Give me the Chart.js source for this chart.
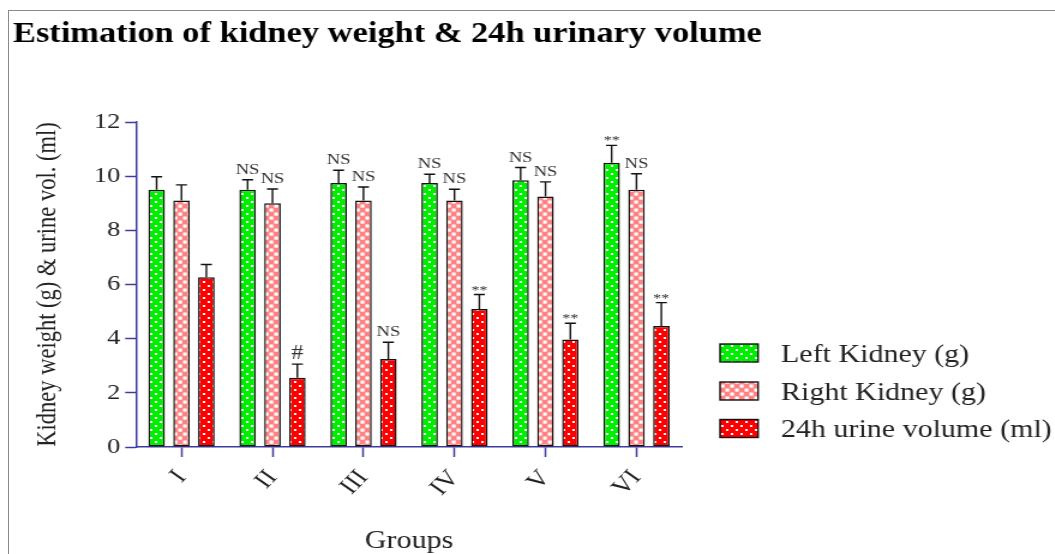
<!DOCTYPE html>
<html>
<head>
<meta charset="utf-8">
<script src="https://cdn.jsdelivr.net/npm/chart.js@4.4.1/dist/chart.umd.min.js"></script>
<style>
    html, body { margin: 0; padding: 0; background: #fff; overflow: hidden; }
    body { width: 1055px; height: 554px; position: relative; }
    .frame {
        position: absolute; left: 8px; top: 10px; width: 1200px; height: 700px;
        border-top: 1.5px solid #8a8a8a; border-left: 1.5px solid #8a8a8a;
    }
    #chart { position: absolute; left: 0; top: 0; }
</style>
</head>
<body>
<div class="frame"></div>
<!-- chart is drawn 880 wide and stretched to 1056 like the original figure -->
<canvas id="chart" width="880" height="570" style="width:1056px;height:570px"></canvas>
<script>
const groups = ['I', 'II', 'III', 'IV', 'V', 'VI'];

const leftKidney = [9.5, 9.5, 9.75, 9.75, 9.85, 10.5];
const leftKidneyErr = [0.48, 0.37, 0.47, 0.32, 0.47, 0.64];
const leftKidneySig = ['', 'NS', 'NS', 'NS', 'NS', '**'];

const rightKidney = [9.1, 9.0, 9.1, 9.1, 9.25, 9.5];
const rightKidneyErr = [0.58, 0.53, 0.5, 0.42, 0.54, 0.59];
const rightKidneySig = ['', 'NS', 'NS', 'NS', 'NS', 'NS'];

const urineVolume = [6.27, 2.56, 3.25, 5.1, 3.97, 4.47];
const urineVolumeErr = [0.47, 0.5, 0.62, 0.53, 0.6, 0.86];
const urineVolumeSig = ['', '#', 'NS', '**', '**', '**'];

const yTicks = [0, 2, 4, 6, 8, 10, 12];

const serif = '"Liberation Serif", "Times New Roman", serif';
const axisColor = '#3c3ca0';

function dotPattern(color) {
    const c = document.createElement('canvas');
    c.width = 8; c.height = 8;
    const g = c.getContext('2d');
    g.fillStyle = color;
    g.fillRect(0, 0, 8, 8);
    g.fillStyle = '#fff';
    g.fillRect(1, 1, 2, 2);
    g.fillRect(5, 5, 2, 2);
    return g.createPattern(c, 'repeat');
}

function squarePattern(color) {
    const c = document.createElement('canvas');
    c.width = 8; c.height = 8;
    const g = c.getContext('2d');
    g.fillStyle = color;
    g.fillRect(0, 0, 8, 8);
    g.fillStyle = '#fff';
    g.fillRect(0.5, 0.5, 3.2, 3.2);
    g.fillRect(4.5, 4.5, 3.2, 3.2);
    return g.createPattern(c, 'repeat');
}

const markFonts = {
    'NS': '15.5px ' + serif,
    '**': '13.5px ' + serif,
    '#': '20px ' + serif
};
const markGaps = { 'NS': 6, '**': 1, '#': 5 };

const errorBars = {
    id: 'errorBars',
    afterDatasetsDraw(chart) {
        const ctx = chart.ctx;
        const yScale = chart.scales.y;
        chart.data.datasets.forEach((ds, i) => {
            const meta = chart.getDatasetMeta(i);
            meta.data.forEach((bar, j) => {
                const top = yScale.getPixelForValue(ds.data[j] + ds.errors[j]);
                ctx.save();
                ctx.strokeStyle = '#111';
                ctx.lineWidth = 1.4;
                ctx.beginPath();
                ctx.moveTo(bar.x, bar.y);
                ctx.lineTo(bar.x, top);
                ctx.moveTo(bar.x - 4.6, top);
                ctx.lineTo(bar.x + 4.6, top);
                ctx.stroke();

                const mark = ds.marks[j];
                if (mark) {
                    ctx.font = markFonts[mark];
                    ctx.fillStyle = '#333';
                    ctx.textAlign = 'center';
                    ctx.textBaseline = 'alphabetic';
                    ctx.fillText(mark, bar.x, top - markGaps[mark]);
                }
                ctx.restore();
            });
        });
    }
};

const sideLegend = {
    id: 'sideLegend',
    afterDraw(chart) {
        const ctx = chart.ctx;
        const rows = [353, 391, 428.5];
        ctx.save();
        chart.data.datasets.forEach((ds, i) => {
            const cy = rows[i];
            ctx.fillStyle = ds.backgroundColor;
            ctx.fillRect(600, cy - 9, 31.7, 18);
            ctx.strokeStyle = '#111';
            ctx.lineWidth = 1.4;
            ctx.strokeRect(600, cy - 9, 31.7, 18);
            ctx.fillStyle = '#222';
            ctx.font = '25px ' + serif;
            ctx.textAlign = 'left';
            ctx.textBaseline = 'alphabetic';
            ctx.fillText(ds.label, 650.8, cy + 8.5);
        });
        ctx.restore();
    }
};

const barStyle = {
    borderColor: '#111',
    borderWidth: 1.5,
    borderSkipped: false,
    categoryPercentage: 0.82,
    barPercentage: 0.665
};

const chart = new Chart(document.getElementById('chart').getContext('2d'), {
    type: 'bar',
    data: {
        labels: groups,
        datasets: [
            Object.assign({
                label: 'Left Kidney (g)',
                data: leftKidney,
                errors: leftKidneyErr,
                marks: leftKidneySig,
                backgroundColor: dotPattern('#00ee00')
            }, barStyle),
            Object.assign({
                label: 'Right Kidney (g)',
                data: rightKidney,
                errors: rightKidneyErr,
                marks: rightKidneySig,
                backgroundColor: squarePattern('#ff8282')
            }, barStyle),
            Object.assign({
                label: '24h urine volume (ml)',
                data: urineVolume,
                errors: urineVolumeErr,
                marks: urineVolumeSig,
                backgroundColor: dotPattern('#ff0000')
            }, barStyle)
        ]
    },
    options: {
        responsive: false,
        devicePixelRatio: 1,
        animation: false,
        events: [],
        layout: {
            padding: { left: 10.8, right: 0, top: 0, bottom: 0 }
        },
        plugins: {
            legend: { display: false },
            tooltip: { enabled: false },
            title: {
                display: true,
                text: 'Estimation of kidney weight & 24h urinary volume',
                align: 'start',
                color: '#000',
                font: { family: serif, size: 28.7, weight: 'bold', lineHeight: 1.2 },
                padding: { top: 17.8, bottom: 69.8 }
            }
        },
        scales: {
            x: {
                offset: true,
                grid: {
                    offset: false,
                    drawOnChartArea: false,
                    tickLength: 10,
                    tickColor: axisColor,
                    tickWidth: 1.5
                },
                border: { color: axisColor, width: 1.5 },
                ticks: {
                    autoSkip: false,
                    minRotation: 50,
                    maxRotation: 50,
                    padding: 8,
                    color: '#222',
                    font: { family: serif, size: 23 }
                },
                title: {
                    display: true,
                    text: 'Groups',
                    color: '#222',
                    font: { family: serif, size: 25, lineHeight: 1.2 },
                    padding: { top: 0, bottom: 14 }
                },
                afterFit(scale) { scale.height = 123; }
            },
            y: {
                min: 0,
                max: 12,
                afterBuildTicks(scale) { scale.ticks = yTicks.map(v => ({ value: v })); },
                grid: {
                    drawOnChartArea: false,
                    tickLength: 9,
                    tickColor: axisColor,
                    tickWidth: 1.5
                },
                border: { color: axisColor, width: 1.5 },
                ticks: {
                    padding: 4,
                    color: '#222',
                    font: { family: serif, size: 22 }
                },
                title: {
                    display: true,
                    text: 'Kidney weight (g) & urine vol. (ml)',
                    color: '#222',
                    font: { family: serif, size: 22.5, lineHeight: 1.2 },
                    padding: { top: 15.4, bottom: 0 }
                },
                afterFit(scale) { scale.width = 102.5; }
            },
            // empty right-hand axis that only reserves room for the legend
            legendSpace: {
                type: 'linear',
                position: 'right',
                grid: { display: false },
                border: { display: false },
                ticks: { display: false },
                afterFit(scale) { scale.width = 311.7; }
            }
        }
    },
    plugins: [errorBars, sideLegend]
});
</script>
</body>
</html>
